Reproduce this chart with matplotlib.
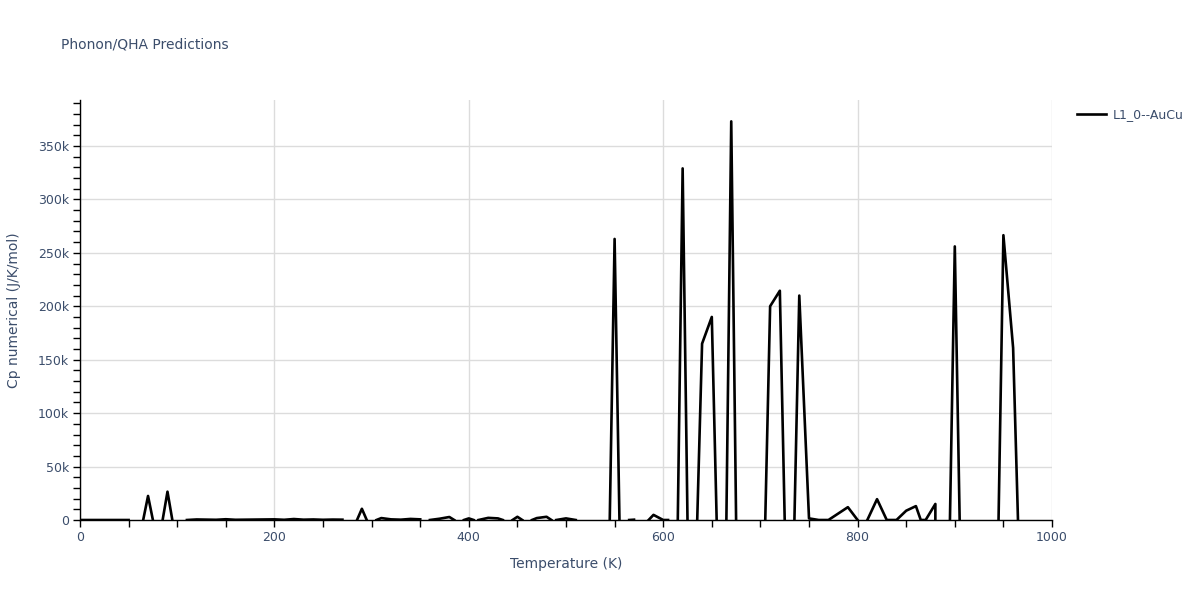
import numpy as np
import matplotlib.pyplot as plt
from matplotlib.ticker import MultipleLocator, FuncFormatter

nan = np.nan

# Temperatures (K) and Cp numerical (J/K/mol); NaN marks the gaps in the curve
temperature = [
    0, 10, 20, 30, 40, 50, 55,
    65, 70, 75, 80,
    85, 90, 95, 100,
    110, 120, 130, 140, 150, 160, 170, 180, 190, 200, 210, 220, 230, 240, 250, 260, 270, 275,
    285, 290, 295, 300,
    305, 310, 320, 330, 340, 350, 355,
    360, 370, 380, 385, 390,
    395, 400, 405, 407,
    410, 420, 430, 435, 440,
    445, 450, 455, 460,
    465, 470, 480, 485, 488,
    490, 500, 510, 520,
    545, 550, 555, 560,
    565, 570, 575,
    585, 590, 600, 605, 610,
    615, 620, 625, 630,
    635, 640, 650, 655, 660,
    665, 670, 675, 690,
    705, 710, 720, 725, 730,
    735, 740, 750, 760, 770, 780, 790, 800, 805,
    810, 820, 830, 840, 850, 860, 865, 870, 880, 880, 885,
    895, 900, 905, 910,
    945, 950, 960, 965,
]
cp = [
    0, 0, 0, 0, 0, 0, nan,
    0, 22500, 0, nan,
    0, 26500, 0, nan,
    0, 500, 300, 200, 700, 200, 300, 500, 400, 600, 200, 900, 300, 500, 200, 400, 300, nan,
    0, 10500, 0, nan,
    0, 1800, 600, 300, 1000, 600, nan,
    0, 1200, 2800, 0, nan,
    0, 1500, 0, nan,
    0, 2000, 1500, 0, nan,
    0, 3000, 0, nan,
    0, 1800, 3000, 0, nan,
    0, 1500, 0, nan,
    0, 263000, 0, nan,
    0, 300, nan,
    0, 4800, 0, 0, nan,
    0, 329000, 0, nan,
    0, 165000, 190000, 0, nan,
    0, 373000, 0, nan,
    0, 200000, 214500, 0, nan,
    0, 210000, 1500, 0, 0, 6000, 12000, 0, nan,
    0, 19500, 0, 0, 8700, 13000, 0, 0, 15000, 0, nan,
    0, 256000, 0, nan,
    0, 266500, 161000, 0,
]

text_color = '#3b4d6b'
plt.rcParams['font.family'] = ['DejaVu Sans']

fig = plt.figure(figsize=(12, 6), dpi=100)
ax = fig.add_axes([80 / 1200, 80 / 600, 972 / 1200, 420 / 600])

ax.plot(temperature, cp, color='black', linewidth=1.9, label='L1_0--AuCu')

ax.set_xlim(0, 1000)
ax.set_ylim(0, 393000)

ax.xaxis.set_major_locator(MultipleLocator(200))
ax.xaxis.set_minor_locator(MultipleLocator(50))
ax.yaxis.set_major_locator(MultipleLocator(50000))
ax.yaxis.set_minor_locator(MultipleLocator(10000))
ax.yaxis.set_major_formatter(FuncFormatter(lambda v, p: '0' if v == 0 else f'{int(v / 1000)}k'))

ax.grid(True, which='major', color='#dcdcdc', linewidth=1)
ax.set_axisbelow(True)
for t in ax.xaxis.get_major_ticks():
    if t.get_loc() >= 1000:
        t.gridline.set_visible(False)

for side in ['top', 'right']:
    ax.spines[side].set_visible(False)
for side in ['left', 'bottom']:
    ax.spines[side].set_color('black')
    ax.spines[side].set_linewidth(1)

ax.tick_params(which='both', direction='out', length=5, width=1, color='black',
               labelcolor=text_color, labelsize=9, pad=3)

ax.set_xlabel('Temperature (K)', color=text_color, fontsize=10, labelpad=9)
ax.set_ylabel('Cp numerical (J/K/mol)', color=text_color, fontsize=10, labelpad=12)

fig.text(61 / 1200, 1 - 45 / 600, 'Phonon/QHA Predictions', color=text_color,
         fontsize=10, va='center', ha='left')

fig.legend(loc='center left', bbox_to_anchor=(1066 / 1200, 1 - 115 / 600), frameon=False,
           fontsize=9, labelcolor=text_color, handlelength=2.3, handletextpad=0.5)

fig.savefig('out.png', dpi=100)
